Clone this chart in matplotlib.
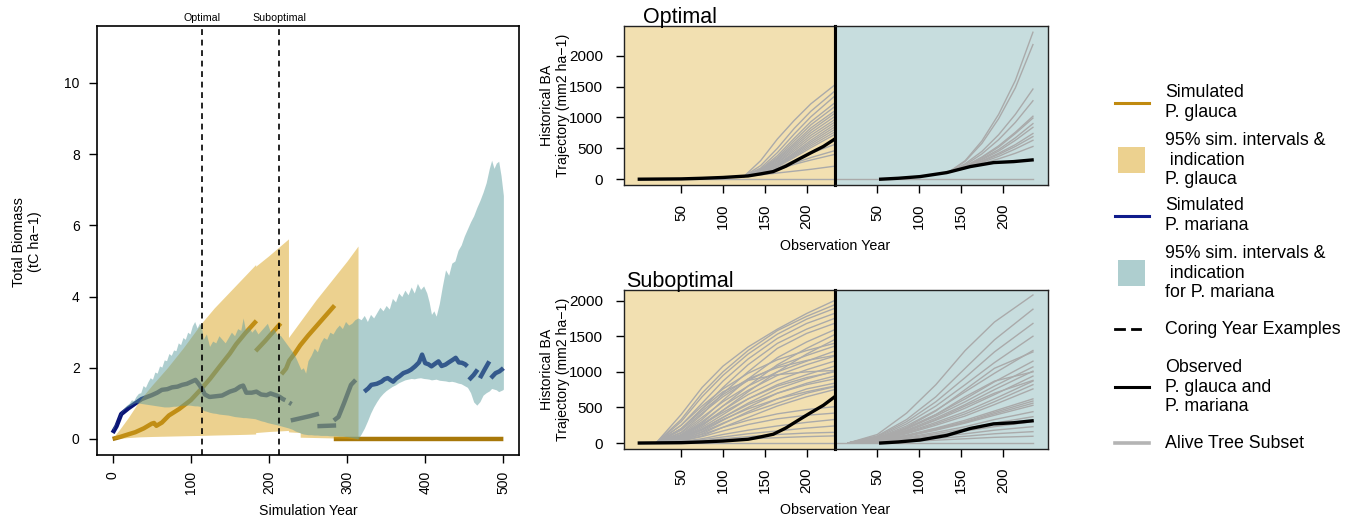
import numpy as np
import matplotlib
matplotlib.use("Agg")
import matplotlib.pyplot as plt
from matplotlib.lines import Line2D
from matplotlib.patches import Rectangle

plt.rcParams['font.family'] = ['Liberation Sans', 'DejaVu Sans']
nan = np.nan

# ---------------- Left panel data (Total biomass, tC ha-1) ----------------
glauca_year = [0, 10, 20, 29, 40, 50, 53, 56, 63, 72, 85, 100, 114, 125, 137, 150, 158, 170, 184, nan,
               183, 195, 205, 215, nan,
               216, 222, 226, 233, 240, 250, 260, 272, 284, nan,
               283, 500]
glauca_biomass = [0.0, 0.06, 0.13, 0.19, 0.3, 0.43, 0.45, 0.37, 0.46, 0.66, 0.84, 1.09, 1.42, 1.7, 2.04, 2.4, 2.66, 2.98, 3.32, nan,
                  2.47, 2.75, 3.0, 3.25, nan,
                  1.82, 1.98, 2.2, 2.4, 2.63, 2.9, 3.15, 3.45, 3.75, nan,
                  0.0, 0.0]

mariana_year = [0, 5, 11, 20, 29, 37, 44, 50, 57, 63, 70, 76, 83, 89, 95, 100, 106, 110, 114, 118, 124, 132, 140,
                150, 157, 163, 167, 171, 178, 184, 190, 197, 202, 206, 210, 214, 218, 221, nan,
                226, 229, nan,
                228, 240, 252, 264, nan,
                262, 274, 286, nan,
                283, 289, 296, 305, 311, nan,
                322, 327, 331, 338, 344, 348, 352, 356, 359, 363, 367, 372, 378, 382, 387, 392, 396, 400, 404,
                408, 413, 417, 421, 426, 430, 435, 439, 443, 447, 451, 454, nan,
                456, 462, 467, nan,
                470, 476, 482, nan,
                484, 490, 495, 500]
mariana_biomass = [0.17, 0.36, 0.7, 0.86, 1.0, 1.12, 1.18, 1.23, 1.3, 1.38, 1.4, 1.45, 1.47, 1.52, 1.55, 1.6, 1.66,
                   1.55, 1.42, 1.25, 1.18, 1.2, 1.22, 1.33, 1.38, 1.47, 1.5, 1.3, 1.3, 1.33, 1.25, 1.23, 1.28, 1.25,
                   1.22, 1.18, 1.12, 1.09, nan,
                   1.02, 0.98, nan,
                   0.52, 0.58, 0.64, 0.71, nan,
                   0.36, 0.37, 0.38, nan,
                   0.52, 0.62, 1.0, 1.52, 1.66, nan,
                   1.33, 1.42, 1.52, 1.55, 1.61, 1.68, 1.71, 1.65, 1.61, 1.7, 1.76, 1.85, 1.9, 1.95, 2.04, 2.15,
                   2.37, 2.13, 2.1, 2.04, 2.12, 2.18, 2.05, 2.09, 2.15, 2.22, 2.28, 2.15, 2.14, 2.1, 2.04, nan,
                   1.66, 1.8, 1.95, nan,
                   1.71, 1.95, 2.18, nan,
                   1.71, 1.85, 1.9, 1.99]

glauca_band_year = [0, 10, 20, 35, 50, 70, 90, 113.5, 130, 150, 170, 183, 183, 200, 225, 225, 240, 240,
                    260, 280, 300, 314]
glauca_band_hi = [0.02, 0.3, 0.6, 1.1, 1.5, 2.0, 2.55, 3.25, 3.68, 4.14, 4.6, 4.9, 4.85, 5.15, 5.62, 2.85,
                  3.3, 3.3, 3.9, 4.45, 5.0, 5.42]
glauca_band_lo = [0.0, 0.02, 0.04, 0.06, 0.07, 0.08, 0.09, 0.1, 0.11, 0.12, 0.13, 0.14, 0.18, 0.21, 0.24,
                  0.2, 0.18, 0.05, 0.04, 0.03, 0.02, 0.0]

mariana_band_year = [0, 3, 6, 9, 12, 15, 18, 21, 24, 27, 30, 33, 36, 39, 42, 45, 48, 51, 54, 57, 60, 63, 66, 69,
                     72, 75, 78, 81, 84, 87, 90, 93, 96, 99, 102, 105, 108, 111, 113.5,
                     116, 120, 124, 128, 132, 136, 140, 144, 148, 152, 156, 160, 164, 167, 170, 174, 178, 182,
                     186, 190, 194, 198, 202, 206, 210, 215, 220, 225, 230, 234, 238, 241, 244, 247, 250, 254,
                     258, 262, 266, 270, 274, 278, 282, 286, 290, 294, 298, 302, 306, 310, 314,
                     318, 322, 326, 330, 334, 338, 342, 346, 350, 354, 358, 362, 366, 370, 374, 378, 382, 386,
                     390, 394, 398, 402, 405, 408, 411, 414, 418, 422, 426, 430, 434, 438, 442, 446, 450, 454,
                     458, 462, 466, 470, 474, 478, 482, 485, 488, 491, 494, 497, 499, 500]
mariana_band_hi = [0.25, 0.4, 0.55, 0.68, 0.8, 0.88, 0.95, 1.0, 1.1, 1.08, 1.2, 1.28, 1.3, 1.5, 1.45, 1.6, 1.72,
                   1.68, 1.88, 1.85, 2.05, 2.02, 2.22, 2.2, 2.4, 2.35, 2.5, 2.48, 2.7, 2.65, 2.85, 2.8, 3.0, 2.95,
                   3.18, 3.3, 3.12, 3.25, 3.2,
                   2.8, 2.95, 2.6, 2.75, 2.7, 2.9, 2.8, 2.7, 2.85, 3.0, 2.9, 3.1, 3.05, 3.4, 3.05, 3.15, 3.0,
                   3.1, 2.95, 3.05, 3.15, 3.25, 3.0, 3.1, 2.95, 2.9, 2.75, 2.6, 2.45, 2.3, 2.1, 1.95, 2.0,
                   1.85, 2.2, 2.35, 2.55, 2.45, 2.7, 2.85, 2.8, 3.0, 2.95, 3.1, 3.2, 3.1, 3.3, 3.2, 3.25,
                   3.35, 3.4,
                   3.35, 3.47, 3.3, 3.5, 3.4, 3.55, 3.7, 3.6, 3.75, 3.65, 3.95, 3.85, 4.1, 4.0, 4.18, 4.05,
                   4.27, 4.1, 4.37, 4.2, 4.3, 4.1, 3.85, 3.5, 3.6, 3.45, 3.8, 4.3, 4.75, 4.6, 4.94, 5.0, 5.3,
                   5.45, 5.7, 5.9, 6.1, 6.27, 6.5, 6.7, 6.93, 7.2, 7.6, 7.83, 7.6, 7.75, 7.8, 7.4, 7.03, 6.84]
mariana_band_lo = [0.3, 0.42, 0.55, 0.66, 0.78, 0.85, 0.9, 0.93, 0.96, 1.0, 1.02, 1.01, 1.0, 0.99, 0.98, 0.97,
                   0.96, 0.95, 0.94, 0.93, 0.92, 0.91, 0.9, 0.9, 0.9, 0.91, 0.92, 0.92, 0.93, 0.94, 0.95, 0.95,
                   0.95, 0.95, 0.94, 0.93, 0.93, 0.92, 0.9,
                   0.8, 0.78, 0.75, 0.73, 0.72, 0.7, 0.69, 0.68, 0.67, 0.65, 0.63, 0.62, 0.61, 0.6, 0.6, 0.59,
                   0.58, 0.57, 0.54, 0.51, 0.49, 0.46, 0.44, 0.42, 0.4, 0.37, 0.34, 0.31, 0.27, 0.22, 0.19,
                   0.16, 0.14, 0.13, 0.12, 0.12, 0.11, 0.11, 0.1, 0.1, 0.1, 0.09, 0.09, 0.09, 0.08, 0.08, 0.07,
                   0.06, 0.04, 0.02, 0.0,
                   0.14, 0.3, 0.5, 0.72, 0.9, 1.05, 1.18, 1.28, 1.36, 1.42, 1.48, 1.52, 1.58, 1.62, 1.66,
                   1.68, 1.7, 1.69, 1.71, 1.72, 1.7, 1.69, 1.68, 1.66, 1.67, 1.68, 1.65, 1.64, 1.63, 1.61,
                   1.62, 1.6, 1.57, 1.55, 1.5, 1.45, 1.3, 1.04, 0.95, 1.05, 1.23, 1.3, 1.35, 1.42, 1.4, 1.38,
                   1.33, 1.36, 1.38, 1.4]

coring_years = [114, 213]
coring_labels = ["Optimal", "Suboptimal"]

# ---------------- Right panels data (Historical BA, mm2 ha-1) ----------------
obs_glauca_year = [0, 50, 75, 100, 130, 145, 160, 175, 190, 204, 220, 233]
obs_glauca_ba = [0, 5, 15, 28, 53, 86, 123, 210, 320, 420, 530, 645]
obs_mariana_year = [54, 75, 101, 133, 161, 189, 213, 235]
obs_mariana_ba = [0, 15, 42, 107, 204, 269, 285, 312]

opt_glauca_tree_year = [125, 145, 165, 185, 205, 233]
opt_glauca_tree_ba = [
    [45, 300, 650, 950, 1220, 1520], [45, 220, 500, 820, 1100, 1420], [45, 180, 430, 730, 1010, 1340],
    [45, 160, 380, 660, 930, 1230], [45, 150, 350, 620, 880, 1170], [45, 140, 330, 580, 830, 1100],
    [45, 130, 310, 550, 790, 1060], [45, 125, 290, 520, 750, 1010], [45, 120, 270, 490, 710, 960],
    [45, 115, 260, 460, 670, 920], [45, 110, 240, 430, 630, 880], [45, 105, 230, 410, 600, 840],
    [45, 100, 220, 390, 570, 800], [45, 100, 210, 370, 540, 760], [45, 95, 200, 350, 510, 720],
    [45, 90, 180, 300, 420, 560], [45, 85, 160, 260, 350, 460], [45, 80, 150, 240, 310, 400],
    [45, 70, 100, 130, 160, 210]]
opt_glauca_dead_year = [0, 233]

opt_mariana_tree_year = [135, 155, 175, 195, 215, 236]
opt_mariana_tree_ba = [
    [110, 300, 620, 1050, 1600, 2380], [110, 290, 580, 980, 1480, 2180], [110, 250, 450, 720, 1050, 1460],
    [110, 230, 410, 640, 920, 1270], [110, 210, 360, 540, 760, 1020], [110, 205, 350, 520, 740, 990],
    [110, 200, 330, 480, 670, 900], [110, 195, 315, 455, 630, 840], [110, 190, 295, 420, 560, 740],
    [110, 185, 285, 400, 530, 690], [110, 180, 270, 370, 490, 630], [110, 175, 250, 330, 420, 530]]
opt_mariana_dead_year = [-1, 236]

sub_glauca_tree_year = [20, 50, 75, 100, 130, 165, 200, 233]
sub_glauca_tree_ba = [
    [0, 400, 780, 1080, 1350, 1600, 1820, 2000], [0, 330, 700, 1000, 1300, 1580, 1780, 1940],
    [0, 300, 650, 950, 1250, 1530, 1740, 1890], [0, 250, 560, 870, 1180, 1470, 1680, 1820],
    [0, 200, 480, 780, 1100, 1400, 1600, 1750], [0, 150, 400, 700, 1000, 1330, 1540, 1680],
    [0, 120, 330, 600, 900, 1200, 1420, 1590], [0, 100, 280, 520, 800, 1100, 1330, 1520],
    [0, 80, 240, 460, 720, 1000, 1250, 1450], [0, 180, 420, 650, 880, 1080, 1230, 1360],
    [0, 140, 360, 580, 800, 1000, 1150, 1290], [0, 110, 300, 520, 740, 950, 1100, 1220],
    [0, 90, 260, 460, 680, 880, 1030, 1150], [0, 70, 220, 400, 620, 820, 960, 1080],
    [0, 60, 190, 360, 560, 760, 900, 1010], [0, 50, 160, 320, 500, 700, 840, 940],
    [0, 40, 130, 270, 440, 620, 760, 840], [0, 30, 100, 220, 360, 520, 650, 750],
    [0, 60, 180, 330, 480, 620, 720, 800], [0, 40, 120, 220, 320, 410, 470, 510],
    [0, 30, 90, 170, 260, 340, 390, 420], [0, 20, 60, 120, 180, 240, 290, 330],
    [0, 15, 45, 85, 130, 170, 210, 240], [0, 10, 30, 60, 90, 120, 140, 150],
    [0, 8, 20, 40, 60, 75, 90, 100], [0, 250, 520, 760, 980, 1170, 1300, 1400],
    [0, 200, 450, 680, 900, 1060, 1160, 1230], [0, 100, 260, 430, 620, 800, 920, 1000],
    [0, 70, 200, 360, 540, 700, 820, 900], [0, 200, 480, 720, 880, 960, 1000, 1020],
    [0, 50, 150, 280, 420, 560, 700, 790]]
sub_glauca_dead_year = [0, 233]

sub_mariana_tree_year = [15, 50, 85, 120, 155, 190, 236]
sub_mariana_tree_ba = [
    [0, 120, 420, 820, 1300, 1700, 2080], [0, 100, 330, 650, 1050, 1450, 1880],
    [0, 90, 300, 580, 920, 1280, 1680], [0, 80, 270, 520, 820, 1130, 1500],
    [0, 70, 240, 460, 720, 980, 1300], [0, 60, 210, 400, 620, 860, 1150],
    [0, 60, 200, 380, 580, 800, 1070], [0, 50, 180, 350, 540, 750, 1010],
    [0, 50, 170, 320, 490, 680, 940], [0, 45, 150, 290, 440, 620, 870],
    [0, 40, 140, 270, 410, 580, 820], [0, 40, 130, 250, 380, 540, 760],
    [0, 35, 110, 210, 320, 450, 620], [0, 35, 105, 200, 300, 430, 590],
    [0, 30, 100, 190, 290, 410, 560], [0, 30, 95, 180, 280, 390, 530],
    [0, 25, 80, 150, 230, 330, 440], [0, 20, 70, 130, 200, 280, 370],
    [0, 18, 60, 110, 170, 230, 300], [0, 15, 50, 90, 130, 180, 230],
    [0, 10, 35, 65, 95, 130, 160], [0, 8, 20, 40, 60, 80, 95],
    [0, 60, 220, 450, 750, 1050, 1280], [0, 50, 200, 400, 650, 870, 1000],
    [0, 40, 160, 330, 520, 700, 880]]
sub_mariana_dead_year = [-1, 236]

ba_ticks = [0, 500, 1000, 1500, 2000]
obs_ticks = [50, 100, 150, 200]
sim_xticks = [0, 100, 200, 300, 400, 500]
sim_yticks = [0, 2, 4, 6, 8, 10]

legend_entries = [
    ("line", "Simulated\nP. glauca"),
    ("tan", "95% sim. intervals &\n indication\nP. glauca"),
    ("navy", "Simulated\nP. mariana"),
    ("teal", "95% sim. intervals &\n indication\nfor P. mariana"),
    ("dash", "Coring Year Examples"),
    ("black", "Observed\nP. glauca and\nP. mariana"),
    ("grey", "Alive Tree Subset"),
]

# ---------------- Styles ----------------
GOLDENROD = '#DAA520'
CADET = '#5F9EA0'
GLAUCA_COL = '#A8780A'
MARIANA_COL = '#0A1478'
GREY = '#AAAAAA'

W, H = 1360, 521
fig = plt.figure(figsize=(W / 100, H / 100), dpi=100)


def add_ax(x0, y0, x1, y1):
    return fig.add_axes([x0 / W, 1 - y1 / H, (x1 - x0) / W, (y1 - y0) / H])


# ---------------- Left panel ----------------
ax = add_ax(97, 26, 519, 455)
ax.plot(glauca_year, glauca_biomass, color=GLAUCA_COL, lw=3.2, zorder=2, solid_capstyle='butt')
ax.plot(mariana_year, mariana_biomass, color=MARIANA_COL, lw=3.2, zorder=2, solid_capstyle='butt')
ax.fill_between(glauca_band_year, glauca_band_lo, glauca_band_hi, color=GOLDENROD, alpha=0.5, lw=0, zorder=3)
ax.fill_between(mariana_band_year, mariana_band_lo, mariana_band_hi, color=CADET, alpha=0.5, lw=0, zorder=4)
for xv, lab in zip(coring_years, coring_labels):
    ax.axvline(xv, color='black', lw=1.2, ls=(0, (3.5, 2.8)), zorder=5)
    ax.text(xv, 1.008, lab, transform=ax.get_xaxis_transform(), ha='center', va='bottom', fontsize=7.7)
ax.set_xlim(-20, 520)
ax.set_ylim(-0.45, 11.6)
ax.set_xticks(sim_xticks)
ax.set_xticklabels([str(v) for v in sim_xticks], rotation=90)
ax.set_yticks(sim_yticks)
ax.tick_params(axis='both', labelsize=10, length=6, width=1, direction='out')
ax.tick_params(axis='y', pad=6.5)
ax.tick_params(axis='x', pad=5.5)
for s in ax.spines.values():
    s.set_linewidth(1.2)
fig.text(308 / W, 1 - 511 / H, "Simulation Year", ha='center', va='center', fontsize=10.2)
fig.text(27 / W, 1 - 242 / H, "Total Biomass\n(tC ha\u22121)", ha='center', va='center', rotation=90,
         fontsize=10.4, linespacing=1.25)


# ---------------- Right panels ----------------
def ba_panel(x0, x1, y0, y1, xlim, ylim, bg, tree_year, tree_ba, dead_year, obs_year, obs_ba, yaxis):
    a = add_ax(x0, y0, x1, y1)
    a.set_facecolor(bg)
    a.plot(dead_year, [0] * len(dead_year), color=GREY, lw=1.0, zorder=2)
    for vals in tree_ba:
        a.plot(tree_year, vals, color=GREY, lw=1.0, zorder=2)
    a.plot(obs_year, obs_ba, color='black', lw=2.4, zorder=3)
    a.set_xlim(*xlim)
    a.set_ylim(*ylim)
    a.set_xticks(obs_ticks)
    a.set_xticklabels([str(v) for v in obs_ticks], rotation=90)
    a.tick_params(axis='x', labelsize=11, length=6, width=1, pad=7.5)
    if yaxis:
        a.set_yticks(ba_ticks)
        a.tick_params(axis='y', labelsize=11, length=6, width=1, pad=9)
    else:
        a.set_yticks([])
    for s in a.spines.values():
        s.set_linewidth(1.0)
        s.set_color('#222222')
    return a


tan_bg = tuple(1 - 0.35 * (1 - c) for c in matplotlib.colors.to_rgb(GOLDENROD))
teal_bg = tuple(1 - 0.35 * (1 - c) for c in matplotlib.colors.to_rgb(CADET))

rows = [
    (26, 185, (-94, 2481), opt_glauca_tree_year, opt_glauca_tree_ba, opt_glauca_dead_year,
     opt_mariana_tree_year, opt_mariana_tree_ba, opt_mariana_dead_year, "Optimal", 246),
    (290, 449, (-84, 2150), sub_glauca_tree_year, sub_glauca_tree_ba, sub_glauca_dead_year,
     sub_mariana_tree_year, sub_mariana_tree_ba, sub_mariana_dead_year, "Suboptimal", 510),
]
for (y0, y1, ylim, gty, gtb, gdy, mty, mtb, mdy, title, xlab_y) in rows:
    al = ba_panel(624, 835, y0, y1, (-18.3, 233.9), ylim, tan_bg, gty, gtb, gdy,
                  obs_glauca_year, obs_glauca_ba, True)
    ar = ba_panel(835, 1048, y0, y1, (-0.6, 254), ylim, teal_bg, mty, mtb, mdy,
                  obs_mariana_year, obs_mariana_ba, False)
    al.spines['right'].set_linewidth(2.2)
    al.spines['right'].set_color('black')
    ar.spines['left'].set_linewidth(2.2)
    ar.spines['left'].set_color('black')
    fig.text(680 / W, 1 - (y0 - 3) / H, title, ha='center', va='baseline', fontsize=15.5)
    fig.text(835 / W, 1 - xlab_y / H, "Observation Year", ha='center', va='center', fontsize=10.3)
    fig.text(555 / W, 1 - ((y0 + y1) / 2) / H, "Historical BA\nTrajectory (mm2 ha\u22121)", ha='center',
             va='center', rotation=90, fontsize=10.2, linespacing=1.2)

# ---------------- Legend ----------------
lg = fig.add_axes([0, 0, 1, 1], facecolor='none')
lg.set_xlim(0, W)
lg.set_ylim(H, 0)
lg.axis('off')
entry_y = [102.5, 160.3, 215.8, 273.3, 329.3, 387, 443.3]
for (kind, label), yy in zip(legend_entries, entry_y):
    if kind == 'line':
        lg.add_line(Line2D([1115, 1149], [yy, yy], color='#C08A10', lw=2.2))
    elif kind == 'navy':
        lg.add_line(Line2D([1115, 1149], [yy, yy], color='#101C8C', lw=2.2))
    elif kind == 'black':
        lg.add_line(Line2D([1115, 1149], [yy, yy], color='black', lw=2.2))
    elif kind == 'grey':
        lg.add_line(Line2D([1115, 1149], [yy, yy], color='#B4B4B4', lw=2.6))
    elif kind == 'dash':
        lg.add_line(Line2D([1115, 1123.5], [yy, yy], color='black', lw=2.0))
        lg.add_line(Line2D([1131.5, 1140], [yy, yy], color='black', lw=2.0))
    elif kind == 'tan':
        lg.add_patch(Rectangle((1118, yy - 13), 27, 26, facecolor=GOLDENROD, alpha=0.5, lw=0))
    elif kind == 'teal':
        lg.add_patch(Rectangle((1118, yy - 13), 27, 26, facecolor=CADET, alpha=0.5, lw=0))
    lg.text(1165, yy, label, ha='left', va='center', fontsize=12.8, linespacing=1.2)

fig.savefig("out.png", dpi=100)
